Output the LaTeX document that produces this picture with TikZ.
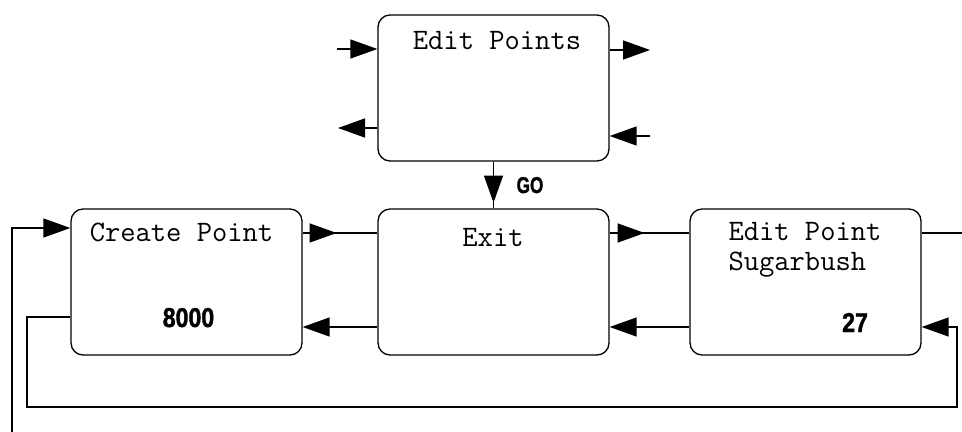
\documentclass[tikz,border=0pt]{standalone}
\usepackage{fontspec}
\usepackage{graphicx}
\newfontfamily\numfont{Liberation Sans}[BoldFeatures={FakeBold=1.6}]
\usetikzlibrary{arrows.meta,decorations.markings}

\tikzset{
  state/.style={draw, rounded corners=0.24cm, minimum width=4.62cm,
    minimum height=2.92cm},
  txt/.style={font=\ttfamily\fontsize{16.9}{20}\selectfont},
  numtxt/.style={font=\numfont\bfseries\fontsize{15.5}{18}\selectfont},
  flow/.style={-{Triangle[length=5.4mm, width=3.8mm]}},
  headat/.style={postaction={decorate}, decoration={markings,
    mark=at position #1 with {\arrow{Triangle[length=5.4mm, width=3.8mm]}}}}
}

\begin{document}
\begin{tikzpicture}[x=0.02cm, y=-0.02cm, line width=0.75pt]
    \useasboundingbox (0, 0) rectangle (962, 432);

    \node [state] (edit) at (493.5, 88) {};
    \node [state] (create) at (186.5, 282) {};
    \node [state] (exit) at (493.5, 282) {};
    \node [state] (sugar) at (805.5, 282) {};

    \node [txt, anchor=base] (editname) at (497, 50) {Edit Points};
    \node [txt, anchor=base] (createname) at (181.5, 241) {Create Point};
    \node [txt, anchor=base] (exitname) at (493, 246) {Exit};
    \node [txt, anchor=base west] (sugarname) at (722, 240) {Edit Point};
    \node [txt, anchor=base west] (sugarname2) at (722, 270) {Sugarbush};
    \node [numtxt, anchor=base] (createnum) at (188.5, 327) {\scalebox{0.85}[1]{8000}};
    \node [numtxt, anchor=base] (sugarnum) at (855, 332) {\scalebox{0.85}[1]{27}};
    \node [numtxt, anchor=base, font=\numfont\bfseries\fontsize{13}{15}\selectfont]
      (go) at (530, 193) {\scalebox{0.75}[1]{GO}};

    % loose ends
    \coordinate (inA) at (337, 49);
    \coordinate (outA) at (338, 128);
    \coordinate (outB) at (650, 50);
    \coordinate (inB) at (650, 136);
    \coordinate (top) at (0, 233);
    \coordinate (low) at (0, 327);
    \coordinate (offright) at (962, 233);
    \coordinate (loopin) at (27, 317);
    \coordinate (loopbottom) at (27, 407);
    \coordinate (loopright) at (957, 327);
    \coordinate (feed) at (12, 432);
    \coordinate (feedin) at (0, 228);

    \draw [flow] (inA) -- (inA -| edit.west);
    \draw [flow] (edit.west |- outA) -- (outA);
    \draw [flow] (edit.east |- outB) -- (outB);
    \draw [flow] (inB) -- (edit.east |- inB);
    \draw [headat=0.82cm] (edit.south) -- (exit.north);

    \draw [headat=0.68cm] (create.east |- top) -- (exit.west |- top);
    \draw [flow] (exit.west |- low) -- (create.east |- low);
    \draw [headat=0.7cm] (exit.east |- top) -- (sugar.west |- top);
    \draw [flow] (sugar.west |- low) -- (exit.east |- low);
    \draw (sugar.east |- top) -- (offright);

    \draw [flow] (create.west |- loopin) -| (loopbottom) -| (loopright)
      -- (sugar.east |- loopright);
    \draw [flow] (feed) |- (create.west |- feedin);
\end{tikzpicture}
\end{document}
